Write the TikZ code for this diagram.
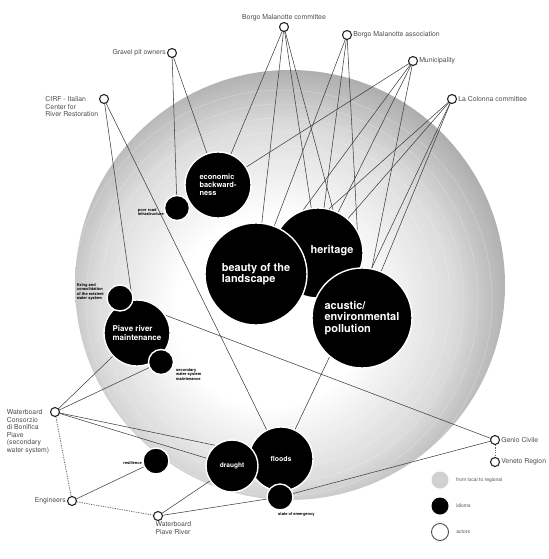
\documentclass[tikz,border=0pt]{standalone}
\usepackage{fontspec}
\setsansfont{TeX Gyre Heros}
\usetikzlibrary{positioning}

\pgfdeclareradialshading{sphereshade}{\pgfpoint{-3bp}{-4bp}}{color(0bp)=(white); color(11bp)=(white); color(21bp)=(black!14); color(30bp)=(black!40); color(50bp)=(black!40)}
\pgfdeclarelayer{back}
\pgfdeclarelayer{links}
\pgfsetlayers{back,links,main}

\begin{document}
\begin{tikzpicture}[
    x=1bp, y=-1bp,
    idiom/.style={
        circle,
        fill=black,
        draw=white,
        line width=1.4pt,
        inner sep=0pt,
        text=white,
        align=left,
        font=\sffamily\bfseries\fontsize{7.5}{8.2}\selectfont
    },
    bigtxt/.style={font=\sffamily\bfseries\fontsize{11}{11.6}\selectfont, text=white, align=left},
    tiny/.style={font=\sffamily\bfseries\fontsize{4}{4.5}\selectfont, text=black, align=left, inner sep=0pt},
    actor/.style={circle, draw=black!85, fill=white, line width=1.1pt, inner sep=0pt, minimum size=9bp},
    tag/.style={font=\sffamily\fontsize{6.9}{7.6}\selectfont, text=black!70, align=left, inner sep=1pt},
    keytxt/.style={font=\sffamily\fontsize{5}{6}\selectfont, text=black!70, anchor=west},
    line/.style={draw=black!75, line width=0.55pt},
    dotline/.style={draw=black!60, line width=0.8pt, dash pattern=on 1.2pt off 1.2pt}
]
\useasboundingbox (0,0) rectangle (549,559);

% sphere: from local to regional
\begin{pgfonlayer}{back}
\shade[shading=sphereshade] (290,285) circle (215);
\foreach \r in {28,42,...,210}
    \draw[white, opacity=0.3, line width=0.5pt] (282,300) circle (\r);
\end{pgfonlayer}

% IDIOMS
\node[idiom, minimum size=90bp] (heritage) at (318,253) {};
\node[idiom, minimum size=102bp, bigtxt] (beauty) at (256,274) {beauty of the\\landscape};
\node[bigtxt] (heritage-txt) at (332,251) {heritage};
\node[idiom, minimum size=100bp, bigtxt] (acustic) at (362,318) {acustic/\\environmental\\pollution};

\node[idiom, minimum size=66bp] (econ) at (218,185) {economic\\backward-\\ness};
\node[idiom, minimum size=25bp] (poor) at (177,208) {};
\node[tiny, anchor=north east] (poor-txt) at (164,208) {poor road\\infrastructure};

\node[idiom, minimum size=66bp, font=\sffamily\bfseries\fontsize{8}{8.8}\selectfont] (piave) at (137,333) {Piave river\\maintenance};
\node[idiom, minimum size=26bp] (fixing) at (120,298) {};
\node[tiny, anchor=north east] (fixing-txt) at (104,283) {fixing and\\consolidation\\of the existent\\water system};
\node[idiom, minimum size=25bp] (secondary) at (161,362) {};
\node[tiny, anchor=north west] (secondary-txt) at (176,368) {secondary\\water system\\maintenance};

\node[idiom, minimum size=64bp, font=\sffamily\bfseries\fontsize{7}{8}\selectfont] (floods) at (281,459) {floods};
\node[idiom, minimum size=52bp, font=\sffamily\bfseries\fontsize{6.6}{7.5}\selectfont] (draught) at (232,466) {draught};
\node[idiom, minimum size=26bp] (emergency) at (280,497) {};
\node[tiny, anchor=north west] (emergency-txt) at (278,512) {state of emergency};
\node[idiom, minimum size=26bp] (resilience) at (156,461) {};
\node[tiny, anchor=east] (resilience-txt) at (142,463) {resilience};

% ACTORS
\node[actor, label={[tag]above:Borgo Malanotte committee}] (bmc) at (284,27) {};
\node[actor, label={[tag]right:Borgo Malanotte association}] (bma) at (347,35) {};
\node[actor, label={[tag]left:Gravel pit owners}] (gravel) at (172,53) {};
\node[actor, label={[tag]right:Municipality}] (muni) at (413,61) {};
\node[actor, label={[tag]right:La Colonna committee}] (colonna) at (452,99) {};
\node[actor] (cirf) at (104,99) {};
\node[tag, left=1bp of cirf.north west, anchor=north east] (cirf-txt) {CIRF - Italian\\Center for\\River Restoration};
\node[actor] (consorzio) at (55,412) {};
\node[tag, left=1bp of consorzio.north west, anchor=north east] (consorzio-txt) {Waterboard\\Consorzio\\di Bonifica\\Piave\\(secondary\\water system)};
\node[actor, label={[tag]left:Engineers}] (engineers) at (72,501) {};
\node[actor] (wpr) at (158,516) {};
\node[tag, below=1bp of wpr.south west, anchor=north west] (wpr-txt) {Waterboard\\Piave River};
\node[actor, label={[tag]right:Genio Civile}] (genio) at (495,440) {};
\node[actor, label={[tag]right:Veneto Region}] (veneto) at (495,462) {};

% LEGEND
\node[circle, fill=black!18, minimum size=17bp, inner sep=0pt] (key-scale) at (440,480) {};
\node[circle, fill=black, minimum size=17bp, inner sep=0pt] (key-idiom) at (440,506) {};
\node[circle, draw=black!70, fill=white, line width=0.9pt, minimum size=17bp, inner sep=0pt] (key-actor) at (440,532) {};
\node[keytxt, right=4bp of key-scale] {from local to regional};
\node[keytxt, right=4bp of key-idiom] {idioms};
\node[keytxt, right=4bp of key-actor] {actors};

% Relationships
\begin{pgfonlayer}{links}
\foreach \a/\b in {bmc/econ, bmc/beauty, bmc/heritage, bmc/acustic,
                   bma/beauty, bma/heritage, bma/acustic,
                   muni/econ, muni/beauty, muni/heritage, muni/acustic,
                   colonna/beauty, colonna/heritage, colonna/acustic, colonna/floods,
                   gravel/econ, gravel/poor,
                   cirf/piave, cirf/floods,
                   fixing/genio, emergency/genio,
                   consorzio/piave, consorzio/secondary, consorzio/floods, consorzio/draught,
                   engineers/resilience, wpr/draught, wpr/emergency}
    \path[line] (\a.center) -- (\b.center);
\path[dotline] (consorzio) -- (engineers);
\path[dotline] (engineers) -- (wpr);
\path[dotline] (genio) -- (veneto);
\end{pgfonlayer}

\end{tikzpicture}
\end{document}
